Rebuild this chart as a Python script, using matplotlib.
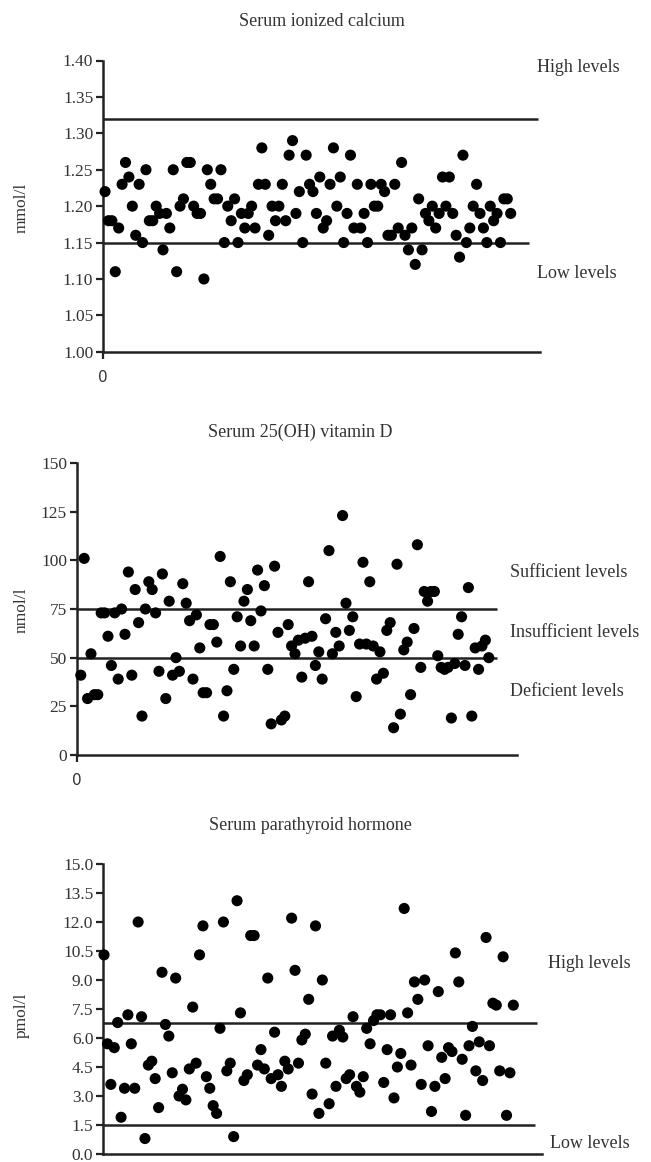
import numpy as np
import matplotlib
matplotlib.use("Agg")
import matplotlib.pyplot as plt

# serum ionized calcium (mmol/l), one value per subject
calcium = [1.22, 1.18, 1.18, 1.11, 1.17, 1.23, 1.26, 1.24, 1.20, 1.16,
           1.23, 1.15, 1.25, 1.18, 1.18, 1.20, 1.19, 1.14, 1.19, 1.17,
           1.25, 1.11, 1.20, 1.21, 1.26, 1.26, 1.20, 1.19, 1.19, 1.10,
           1.25, 1.23, 1.21, 1.21, 1.25, 1.15, 1.20, 1.18, 1.21, 1.15,
           1.19, 1.17, 1.19, 1.20, 1.17, 1.23, 1.28, 1.23, 1.16, 1.20,
           1.18, 1.20, 1.23, 1.18, 1.27, 1.29, 1.19, 1.22, 1.15, 1.27,
           1.23, 1.22, 1.19, 1.24, 1.17, 1.18, 1.23, 1.28, 1.20, 1.24,
           1.15, 1.19, 1.27, 1.17, 1.23, 1.17, 1.19, 1.15, 1.23, 1.20,
           1.20, 1.23, 1.22, 1.16, 1.16, 1.23, 1.17, 1.26, 1.16, 1.14,
           1.17, 1.12, 1.21, 1.14, 1.19, 1.18, 1.20, 1.17, 1.19, 1.24,
           1.20, 1.24, 1.19, 1.16, 1.13, 1.27, 1.15, 1.17, 1.20, 1.23,
           1.19, 1.17, 1.15, 1.20, 1.18, 1.19, 1.15, 1.21, 1.21, 1.19]

# serum 25(OH) vitamin D (nmol/l)
vitd = [41, 101, 29, 52, 31, 31, 73, 73, 61, 46,
        73, 39, 75, 62, 94, 41, 85, 68, 20, 75,
        89, 85, 73, 43, 93, 29, 79, 41, 50, 43,
        88, 78, 69, 39, 72, 55, 32, 32, 67, 67,
        58, 102, 20, 33, 89, 44, 71, 56, 79, 85,
        69, 56, 95, 74, 87, 44, 16, 97, 63, 18,
        20, 67, 56, 52, 59, 40, 60, 89, 61, 46,
        53, 39, 70, 105, 52, 63, 56, 123, 78, 64,
        71, 30, 57, 99, 57, 89, 56, 39, 53, 42,
        64, 68, 14, 98, 21, 54, 58, 31, 65, 108,
        45, 84, 79, 84, 84, 51, 45, 44, 45, 19,
        47, 62, 71, 46, 86, 20, 55, 44, 56, 59, 50]

# serum parathyroid hormone (pmol/l)
pth = [10.3, 5.7, 3.6, 5.5, 6.8, 1.9, 3.4, 7.2, 5.7, 3.4,
       12.0, 7.1, 0.8, 4.6, 4.8, 3.9, 2.4, 9.4, 6.7, 6.1,
       4.2, 9.1, 3.0, 3.35, 2.8, 4.4, 7.6, 4.7, 10.3, 11.8,
       4.0, 3.4, 2.5, 2.1, 6.5, 12.0, 4.3, 4.7, 0.9, 13.1,
       7.3, 3.8, 4.1, 11.3, 11.3, 4.6, 5.4, 4.4, 9.1, 3.9,
       6.3, 4.1, 3.5, 4.8, 4.4, 12.2, 9.5, 4.7, 5.9, 6.2,
       8.0, 3.1, 11.8, 2.1, 9.0, 4.7, 2.6, 6.1, 3.5, 6.4,
       6.05, 3.9, 4.1, 7.1, 3.5, 3.2, 4.0, 6.5, 5.7, 6.9,
       7.2, 7.2, 3.7, 5.4, 7.2, 2.9, 4.5, 5.2, 12.7, 7.3,
       4.6, 8.9, 8.0, 3.6, 9.0, 5.6, 2.2, 3.5, 8.4, 5.0,
       3.9, 5.5, 5.3, 10.4, 8.9, 4.9, 2.0, 5.6, 6.6, 4.3,
       5.8, 3.8, 11.2, 5.6, 7.8, 7.7, 4.3, 10.2, 2.0, 4.2, 7.7]

titles = ["Serum ionized calcium", "Serum 25(OH) vitamin D", "Serum parathyroid hormone"]
units = ["mmol/l", "nmol/l", "pmol/l"]
calcium_cutoffs = [1.32, 1.15]
vitd_cutoffs = [75, 50]
pth_cutoffs = [6.8, 1.5]

W, H = 651, 1162
SERIF = "Liberation Serif"
INK = "#222222"

fig = plt.figure(figsize=(W / 100, H / 100), dpi=100)


def px_axes(left, top, right, bottom):
    return fig.add_axes([left / W, 1 - bottom / H, (right - left) / W, (bottom - top) / H])


def fig_text(x, y, s, **kw):
    kw.setdefault("family", SERIF)
    kw.setdefault("color", "#333333")
    fig.text(x / W, 1 - y / H, s, **kw)


def setup(ax, ymin, ymax, step, fmt, xmax, zero=True):
    ax.set_ylim(ymin, ymax)
    ax.set_xlim(0, xmax)
    ticks = np.arange(ymin, ymax + step / 2, step)
    ax.set_yticks(ticks)
    ax.set_yticklabels([fmt.format(v) for v in ticks],
                       family=SERIF, fontsize=12.5, color="#333333")
    for s in ["top", "right"]:
        ax.spines[s].set_visible(False)
    for s in ["left", "bottom"]:
        ax.spines[s].set_linewidth(1.8)
        ax.spines[s].set_color(INK)
    ax.tick_params(axis="y", direction="out", length=5, width=1.6, color=INK, pad=2)
    if zero:
        ax.set_xticks([0])
        ax.set_xticklabels(["0"], family="DejaVu Sans", fontsize=11, color="#333333")
        ax.tick_params(axis="x", direction="out", length=5, width=1.6, color=INK, pad=8)
    else:
        ax.set_xticks([])


def dots(ax, x, y):
    ax.scatter(x, y, s=64, color="black", edgecolors="none", zorder=3, clip_on=False)


# panel 1
ax1 = px_axes(103, 60.5, 540, 351.8)
setup(ax1, 1.00, 1.40, 0.05, "{:.2f}", 128.2)
dots(ax1, np.arange(len(calcium)) + 0.6, calcium)
ax1.hlines(calcium_cutoffs[0], 0, 127.6, color=INK, lw=1.8, zorder=2)
ax1.hlines(calcium_cutoffs[1], 0, 124.9, color=INK, lw=1.8, zorder=2)

# panel 2
ax2 = px_axes(76.7, 463, 517, 755)
setup(ax2, 0, 150, 25, "{:.0f}", 129.5)
dots(ax2, np.arange(len(vitd)) + 1.2, vitd)
for c in vitd_cutoffs:
    ax2.hlines(c, 0, 123.6, color=INK, lw=1.8, zorder=2)

# panel 3
ax3 = px_axes(103, 864, 542, 1154)
setup(ax3, 0.0, 15.0, 1.5, "{:.1f}", 128.7, zero=False)
dots(ax3, np.arange(len(pth)) + 0.3, pth)
ax3.hlines(pth_cutoffs[0], 0, 127.3, color=INK, lw=1.8, zorder=2)
ax3.hlines(pth_cutoffs[1], 0, 126.7, color=INK, lw=1.8, zorder=2)

# titles and unit labels
for (cx, cy), t in zip([(322, 22), (300, 432), (310, 826)], titles):
    fig_text(cx, cy, t, ha="center", va="center", fontsize=13)
for cy, u in zip([208, 610, 1015], units):
    fig_text(22, cy, u, ha="center", va="center", rotation=90, fontsize=12.5)

# level annotations
fig_text(537, 67, "High levels", va="center", fontsize=13)
fig_text(537, 274, "Low levels", va="center", fontsize=13)
fig_text(510, 572, "Sufficient levels", va="center", fontsize=13)
fig_text(510, 632, "Insufficient levels", va="center", fontsize=13)
fig_text(510, 692, "Deficient levels", va="center", fontsize=13)
fig_text(548, 963, "High levels", va="center", fontsize=13)
fig_text(550, 1143, "Low levels", va="center", fontsize=13)

fig.savefig("out.png", dpi=100)
